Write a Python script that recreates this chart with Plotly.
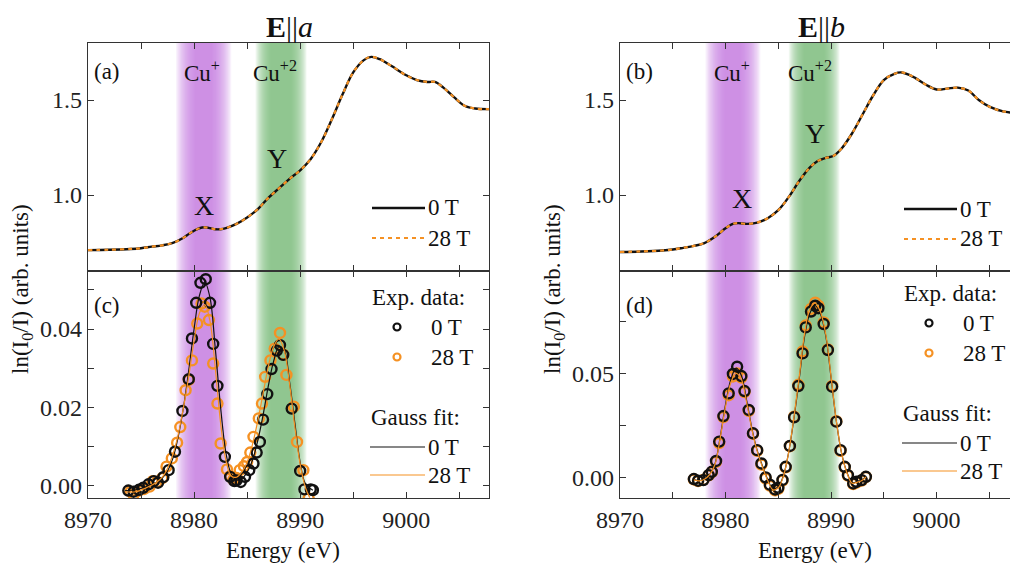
import plotly.graph_objects as go

# ---------------- data ----------------
# (a) XANES, E||a
energy_a = [8970, 8972, 8974, 8975, 8976, 8977, 8978, 8979, 8979.5, 8980, 8980.5, 8981, 8981.5,
            8982, 8982.5, 8983, 8984, 8985, 8986, 8987, 8988, 8989, 8990, 8991, 8992, 8993,
            8994, 8995, 8996, 8996.7, 8997.5, 8998, 8999, 9000, 9001, 9002, 9002.7, 9003.5,
            9004.5, 9005.5, 9006.5, 9008]
xanes_a_0T = [0.710, 0.712, 0.716, 0.720, 0.728, 0.735, 0.748, 0.775, 0.795, 0.812, 0.825, 0.830, 0.826,
              0.820, 0.820, 0.826, 0.848, 0.882, 0.925, 0.985, 1.035, 1.085, 1.130, 1.190, 1.280, 1.400,
              1.530, 1.645, 1.710, 1.727, 1.715, 1.700, 1.665, 1.630, 1.605, 1.595, 1.595, 1.565,
              1.515, 1.470, 1.455, 1.452]
xanes_a_28T = list(xanes_a_0T)

# (b) XANES, E||b
energy_b = [8970, 8972, 8974, 8975, 8976, 8977, 8978, 8979, 8980, 8980.7, 8981.2, 8982, 8983,
            8984, 8985, 8986, 8987, 8988, 8988.7, 8989.5, 8990.2, 8991, 8992, 8993, 8994, 8995,
            8996, 8996.7, 8997.5, 8998, 8999, 9000, 9001, 9002, 9003, 9004, 9005, 9006.3, 9008]
xanes_b_0T = [0.700, 0.703, 0.708, 0.713, 0.722, 0.732, 0.747, 0.780, 0.825, 0.848, 0.852, 0.848, 0.855,
              0.878, 0.920, 0.990, 1.075, 1.145, 1.178, 1.195, 1.205, 1.245, 1.325, 1.425, 1.525, 1.605,
              1.638, 1.645, 1.630, 1.615, 1.580, 1.555, 1.560, 1.565, 1.550, 1.500, 1.465, 1.440, 1.430]
xanes_b_28T = list(xanes_b_0T)

# (c) E||a : experimental points
c_E_0T = [8973.8, 8974.3, 8974.8, 8975.2, 8975.7, 8976.2, 8976.6, 8977.1, 8977.6, 8978.2, 8978.9,
          8979.5, 8979.8, 8980.2, 8980.6, 8981.1, 8981.5, 8981.8, 8982.2, 8982.9, 8983.4, 8983.8,
          8984.0, 8984.4, 8984.8, 8985.2, 8985.6, 8985.9, 8986.2, 8986.5, 8986.9, 8987.3, 8987.8,
          8988.1, 8988.4, 8989.2, 8990.0, 8990.4, 8991.0, 8991.2]
c_v_0T = [-0.0012, -0.0015, -0.0010, -0.0005, 0.0004, 0.0012, 0.0008, 0.0022, 0.0040, 0.0087, 0.0191,
          0.0272, 0.0376, 0.0467, 0.0518, 0.0527, 0.0467, 0.0362, 0.0255, 0.0074, 0.0023, 0.0012,
          0.0014, 0.0010, 0.0023, 0.0040, 0.0057, 0.0085, 0.0112, 0.0169, 0.0234, 0.0298, 0.0345,
          0.0359, 0.0334, 0.0197, 0.0038, -0.0009, -0.0009, -0.0011]
c_E_28T = [8974.0, 8974.3, 8974.8, 8975.3, 8975.8, 8976.1, 8976.5, 8977.0, 8977.4, 8977.9, 8978.4,
           8978.7, 8979.2, 8979.5, 8979.8, 8980.3, 8980.7, 8981.0, 8981.4, 8981.8, 8982.2, 8982.5,
           8983.1, 8983.4, 8983.7, 8984.0, 8984.3, 8984.7, 8985.0, 8985.3, 8985.6, 8986.1, 8986.4,
           8986.7, 8987.2, 8987.6, 8988.1, 8988.4, 8988.7, 8989.4, 8989.7, 8990.3, 8990.8]
c_v_28T = [-0.0015, -0.0022, -0.0012, -0.0008, -0.0002, 0.0012, 0.0010, 0.0020, 0.0049, 0.0070, 0.0110,
           0.0150, 0.0244, 0.0270, 0.0320, 0.0414, 0.0465, 0.0457, 0.0423, 0.0312, 0.0210, 0.0108,
           0.0042, 0.0025, 0.0016, 0.0020, 0.0040, 0.0050, 0.0061, 0.0085, 0.0125, 0.0172, 0.0210,
           0.0278, 0.0320, 0.0350, 0.0390, 0.0335, 0.0283, 0.0202, 0.0112, 0.0040, -0.0032]
# (c) Gauss fits
c_fit_E0 = [8973.5, 8974.5, 8975.5, 8976.5, 8977.0, 8977.5, 8978.0, 8978.5, 8979.0, 8979.5, 8980.0,
            8980.5, 8981.0, 8981.5, 8982.0, 8982.5, 8983.0, 8983.5, 8984.0, 8984.5, 8985.0, 8985.5,
            8986.0, 8986.5, 8987.0, 8987.5, 8988.0, 8988.5, 8989.0, 8989.5, 8990.0, 8990.5, 8991.2]
c_fit_0T = [-0.0012, -0.0010, -0.0002, 0.0010, 0.0020, 0.0038, 0.0070, 0.0125, 0.0200, 0.0295, 0.0400,
            0.0485, 0.0520, 0.0480, 0.0350, 0.0200, 0.0085, 0.0030, 0.0015, 0.0018, 0.0035, 0.0065,
            0.0115, 0.0180, 0.0255, 0.0318, 0.0355, 0.0345, 0.0265, 0.0160, 0.0060, 0.0005, -0.0011]
c_fit_E28 = [8973.5, 8974.5, 8975.5, 8976.5, 8977.0, 8977.5, 8978.0, 8978.5, 8979.0, 8979.5, 8980.0,
             8980.5, 8981.0, 8981.5, 8982.0, 8982.5, 8983.0, 8983.5, 8984.0, 8984.5, 8985.0, 8985.5,
             8986.0, 8986.5, 8987.0, 8987.5, 8988.0, 8988.5, 8989.0, 8989.5, 8990.0, 8990.5, 8990.9]
c_fit_28T = [-0.0015, -0.0015, -0.0005, 0.0010, 0.0022, 0.0045, 0.0080, 0.0130, 0.0200, 0.0280, 0.0370,
             0.0440, 0.0462, 0.0420, 0.0300, 0.0160, 0.0065, 0.0025, 0.0022, 0.0035, 0.0060, 0.0105,
             0.0165, 0.0235, 0.0305, 0.0355, 0.0375, 0.0345, 0.0260, 0.0150, 0.0055, -0.0005, -0.0030]

# (d) E||b : experimental points
d_E = [8977.0, 8977.4, 8977.9, 8978.4, 8978.7, 8979.1, 8979.4, 8979.8, 8980.3, 8980.7, 8981.1,
       8981.5, 8981.8, 8982.2, 8982.6, 8983.0, 8983.4, 8983.8, 8984.2, 8984.7, 8985.0, 8985.4,
       8985.7, 8986.1, 8986.5, 8986.9, 8987.3, 8987.6, 8988.1, 8988.5, 8988.8, 8989.3, 8989.7,
       8990.1, 8990.5, 8990.9, 8991.3, 8991.6, 8992.1, 8992.4, 8992.9, 8993.3]
d_v_0T = [-0.0008, -0.0016, -0.0013, 0.0011, 0.0027, 0.0079, 0.0172, 0.0295, 0.0404, 0.0497, 0.0532,
          0.0487, 0.0415, 0.0324, 0.0212, 0.0131, 0.0067, 0.0000, -0.0035, -0.0058, -0.0050, -0.0012,
          0.0051, 0.0151, 0.0289, 0.0439, 0.0596, 0.0721, 0.0797, 0.0825, 0.0813, 0.0737, 0.0612,
          0.0436, 0.0268, 0.0131, 0.0051, 0.0011, -0.0029, -0.0021, -0.0013, 0.0003]
d_v_28T = [-0.0010, -0.0018, -0.0012, 0.0010, 0.0025, 0.0075, 0.0165, 0.0290, 0.0395, 0.0485, 0.0500,
           0.0480, 0.0410, 0.0320, 0.0210, 0.0128, 0.0062, -0.0005, -0.0040, -0.0062, -0.0055, -0.0015,
           0.0048, 0.0150, 0.0292, 0.0445, 0.0605, 0.0730, 0.0810, 0.0840, 0.0825, 0.0745, 0.0615,
           0.0440, 0.0270, 0.0128, 0.0048, 0.0008, -0.0032, -0.0025, -0.0015, 0.0002]
# (d) Gauss fits
d_fit_E = [8977.0, 8977.5, 8978.0, 8978.5, 8979.0, 8979.5, 8980.0, 8980.5, 8981.0, 8981.5, 8982.0,
           8982.5, 8983.0, 8983.5, 8984.0, 8984.5, 8985.0, 8985.5, 8986.0, 8986.5, 8987.0, 8987.5,
           8988.0, 8988.5, 8989.0, 8989.5, 8990.0, 8990.5, 8991.0, 8991.5, 8992.0, 8992.5, 8993.0, 8993.3]
d_fit_0T = [-0.0010, -0.0015, -0.0008, 0.0015, 0.0065, 0.0195, 0.0350, 0.0470, 0.0525, 0.0490, 0.0370,
            0.0235, 0.0130, 0.0055, -0.0010, -0.0055, -0.0045, 0.0010, 0.0125, 0.0290, 0.0480, 0.0680,
            0.0790, 0.0825, 0.0785, 0.0680, 0.0480, 0.0270, 0.0115, 0.0025, -0.0025, -0.0020, -0.0010, 0.0003]
d_fit_28T = [-0.0012, -0.0017, -0.0009, 0.0013, 0.0062, 0.0190, 0.0340, 0.0455, 0.0500, 0.0472, 0.0360,
             0.0230, 0.0126, 0.0050, -0.0015, -0.0060, -0.0050, 0.0008, 0.0125, 0.0295, 0.0490, 0.0695,
             0.0810, 0.0838, 0.0795, 0.0688, 0.0485, 0.0272, 0.0115, 0.0022, -0.0028, -0.0023, -0.0012, 0.0002]

# Cu+ / Cu+2 band centres (eV) for each column
band_a = [8980.9, 8988.2]
band_b = [8980.7, 8988.4]

x_ticks = [8970, 8980, 8990, 9000]
x_ticklabels = ["8970", "8980", "8990", "9000"]

# ---------------- style ----------------
# the page body has an 8 px margin; screen pixel coordinates below are corrected for it
W, H = 1018, 562
OFF = 8
FONT = "Liberation Serif, Times New Roman, serif"
ORANGE = "rgb(245,145,35)"
BLACK = "#111111"
AX = "#333333"


def px(x):
    return (x - OFF) / W


def py(y):
    return 1 - (y - OFF) / H


fig = go.Figure()

# top panels: XANES
for xa, ya, E, v0, v28 in [("x", "y", energy_a, xanes_a_0T, xanes_a_28T),
                           ("x3", "y3", energy_b, xanes_b_0T, xanes_b_28T)]:
    fig.add_trace(go.Scatter(x=E, y=v0, mode="lines", line=dict(color=BLACK, width=2.4, shape="spline"),
                             xaxis=xa, yaxis=ya, showlegend=False))
    fig.add_trace(go.Scatter(x=E, y=v28, mode="lines",
                             line=dict(color=ORANGE, width=2.2, dash="4px,4px", shape="spline"),
                             xaxis=xa, yaxis=ya, showlegend=False))

# bottom panels
for xa, ya, E0, v0, E28, v28, fE0, f0, fE28, f28 in [
    ("x2", "y2", c_E_0T, c_v_0T, c_E_28T, c_v_28T, c_fit_E0, c_fit_0T, c_fit_E28, c_fit_28T),
    ("x4", "y4", d_E, d_v_0T, d_E, d_v_28T, d_fit_E, d_fit_0T, d_fit_E, d_fit_28T),
]:
    fig.add_trace(go.Scatter(x=E28, y=v28, mode="markers",
                             marker=dict(symbol="circle-open", size=10, color=ORANGE, line=dict(width=2.4, color=ORANGE)),
                             xaxis=xa, yaxis=ya, showlegend=False))
    fig.add_trace(go.Scatter(x=E0, y=v0, mode="markers",
                             marker=dict(symbol="circle-open", size=10, color=BLACK, line=dict(width=2.4, color=BLACK)),
                             xaxis=xa, yaxis=ya, showlegend=False))
    fig.add_trace(go.Scatter(x=fE0, y=f0, mode="lines", line=dict(color=BLACK, width=1.2, shape="spline"),
                             xaxis=xa, yaxis=ya, showlegend=False))
    fig.add_trace(go.Scatter(x=fE28, y=f28, mode="lines", line=dict(color=ORANGE, width=1.2, shape="spline"),
                             xaxis=xa, yaxis=ya, showlegend=False))

# gradient bands
shapes = []
N = 16
band_styles = [((200, 130, 230), 0.8, 2.6), ((125, 190, 125), 1.0, 2.4)]
for xref, yrefs, centres in [("x", ["y", "y2"], band_a), ("x3", ["y3", "y4"], band_b)]:
    for centre, (rgb, core, outer) in zip(centres, band_styles):
        for yr in yrefs:
            for k in range(N):
                hw = core + (outer - core) * k / (N - 1)
                shapes.append(dict(type="rect", xref=xref, yref=yr + " domain", x0=centre - hw, x1=centre + hw,
                                   y0=0, y1=1, layer="below", line=dict(width=0),
                                   fillcolor="rgba(%d,%d,%d,0.11)" % rgb))

annotations = []


def txt(s, x, y, size=23, xanchor="center", angle=0, yanchor="middle"):
    annotations.append(dict(text=s, x=px(x), y=py(y), xref="paper", yref="paper", showarrow=False,
                            xanchor=xanchor, yanchor=yanchor, textangle=angle, borderpad=0,
                            font=dict(family=FONT, size=size, color="#111")))


def hline(x0, x1, y, color, width, dash="solid"):
    shapes.append(dict(type="line", xref="paper", yref="paper", x0=px(x0), x1=px(x1), y0=py(y), y1=py(y),
                       line=dict(color=color, width=width, dash=dash)))


def circ(x, y, color):
    shapes.append(dict(type="circle", xref="paper", yref="paper", xsizemode="pixel", ysizemode="pixel",
                       xanchor=px(x), yanchor=py(y), x0=-3.5, x1=3.5, y0=-3.5, y1=3.5,
                       line=dict(color=color, width=2.2)))


for off, title, lab_top, lab_bot, cu1, cu2, Xp, Yp, tl_y, el_y in [
    (0, "<b>E</b>||<i>a</i>", "(a)", "(c)", 202, 275, (204, 205), (277, 159), 208, 297),
    (532, "<b>E</b>||<i>b</i>", "(b)", "(d)", 732 - 532, 810 - 532, (742 - 532, 198), (815 - 532, 133), 209, 293),
]:
    txt(title, 289 + off, 8.5, size=30, yanchor="top")
    txt(lab_top, 93 + off, 72, xanchor="left")
    txt("Cu<sup>+</sup>", cu1 + off, 72)
    txt("Cu<sup>+2</sup>", cu2 + off, 72)
    txt("X", Xp[0] + off, Xp[1], size=28)
    txt("Y", Yp[0] + off, Yp[1], size=28)
    # top legend
    hline(372 + off, 425 + off, tl_y, BLACK, 2.4)
    hline(372 + off, 425 + off, tl_y + 30, ORANGE, 2.2, "4px,4px")
    txt("0 T", 427 + off, tl_y, xanchor="left")
    txt("28 T", 427 + off, tl_y + 30, xanchor="left")
    # bottom legend
    txt(lab_bot, 93 + off, 305, xanchor="left")
    txt("Exp. data:", 371 + off, el_y, xanchor="left")
    circ(397 + off, el_y + 30, BLACK)
    circ(397 + off, el_y + 60, ORANGE)
    txt("0 T", 430 + off, el_y + 30, xanchor="left")
    txt("28 T", 430 + off, el_y + 60, xanchor="left")
    txt("Gauss fit:", 370 + off, el_y + 120, xanchor="left")
    hline(370 + off, 425 + off, el_y + 150, BLACK, 1.2)
    hline(370 + off, 425 + off, el_y + 178, ORANGE, 1.2)
    txt("0 T", 427 + off, el_y + 150, xanchor="left")
    txt("28 T", 427 + off, el_y + 178, xanchor="left")
    # axis titles
    txt("ln(I<sub>0</sub>/I) (arb. units)", 22 + off, 289, angle=-90)
    txt("Energy (eV)", 283 + off, 550)

axis_common = dict(showline=True, linecolor=AX, linewidth=1.3, mirror="allticks", ticks="inside",
                   ticklen=6, tickwidth=1.2, tickcolor=AX, showgrid=False, zeroline=False, automargin=False,
                   tickfont=dict(family=FONT, size=24, color="#222"))
x_minor = dict(dtick=5, ticks="inside", ticklen=6, tickwidth=1.2, tickcolor=AX, showgrid=False)

left_x = [px(88), px(489)]
right_x = [px(620), px(1021)]
top_y = [py(271), py(43)]
bot_y = [py(498), py(271)]

fig.update_layout(
    width=W, height=H, margin=dict(l=0, r=0, t=0, b=0, autoexpand=False),
    paper_bgcolor="white", plot_bgcolor="rgba(0,0,0,0)", showlegend=False,
    font=dict(family=FONT, color="#111"),
    shapes=shapes, annotations=annotations,
    xaxis=dict(axis_common, domain=left_x, anchor="y", range=[8970, 9007.8], tickvals=x_ticks,
               ticktext=x_ticklabels, showticklabels=False, minor=x_minor),
    xaxis2=dict(axis_common, domain=left_x, anchor="y2", range=[8970, 9007.8], tickvals=x_ticks,
                ticktext=x_ticklabels, minor=x_minor),
    xaxis3=dict(axis_common, domain=right_x, anchor="y3", range=[8970, 9008.0], tickvals=x_ticks,
                ticktext=x_ticklabels, showticklabels=False, minor=x_minor),
    xaxis4=dict(axis_common, domain=right_x, anchor="y4", range=[8970, 9008.0], tickvals=x_ticks,
                ticktext=x_ticklabels, minor=x_minor),
    yaxis=dict(axis_common, domain=top_y, anchor="x", range=[0.6, 1.8], tickvals=[1.0, 1.5],
               ticktext=["1.0", "1.5"]),
    yaxis2=dict(axis_common, domain=bot_y, anchor="x2", range=[-0.0031, 0.0548],
                tickvals=[0, 0.02, 0.04], ticktext=["0.00", "0.02", "0.04"],
                minor=dict(dtick=0.01, ticks="inside", ticklen=6, tickwidth=1.2, tickcolor=AX, showgrid=False)),
    yaxis3=dict(axis_common, domain=top_y, anchor="x3", range=[0.6, 1.8], tickvals=[1.0, 1.5],
                ticktext=["1.0", "1.5"]),
    yaxis4=dict(axis_common, domain=bot_y, anchor="x4", range=[-0.0099, 0.0992],
                tickvals=[0, 0.05], ticktext=["0.00", "0.05"],
                minor=dict(dtick=0.025, ticks="inside", ticklen=6, tickwidth=1.2, tickcolor=AX, showgrid=False)),
)

fig.write_html("out.html")
